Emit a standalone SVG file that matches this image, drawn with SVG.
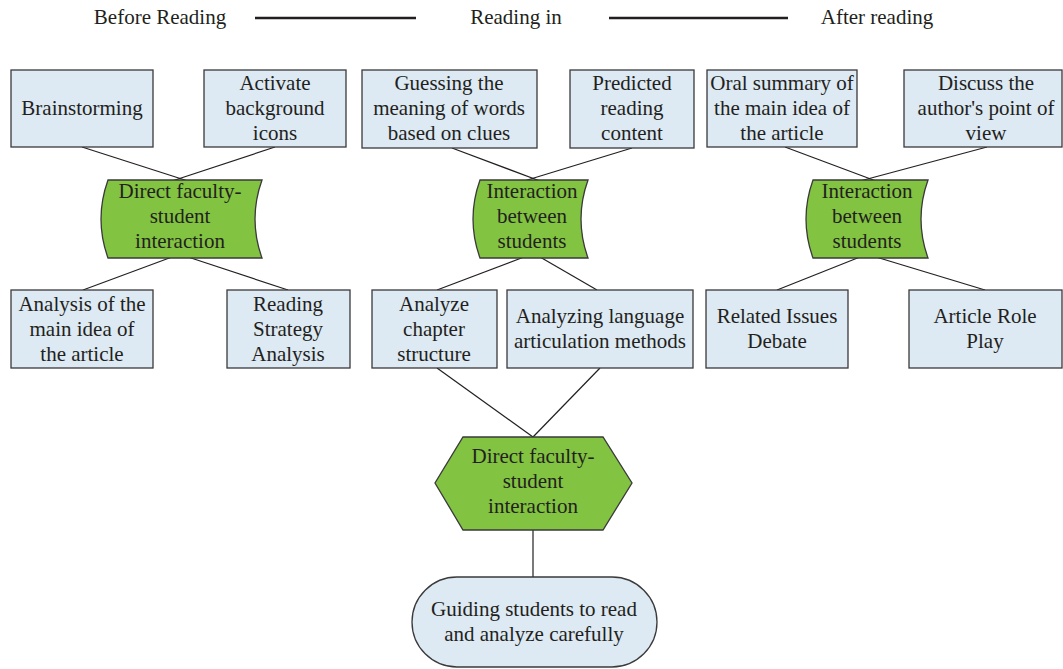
<svg xmlns="http://www.w3.org/2000/svg" width="1063" height="669" viewBox="0 0 1063 669">
  <style>
    text { font-family: "Liberation Serif", "Times New Roman", serif; font-size: 21px; fill: #231f20; text-anchor: middle; }
    .box { fill: #dde9f3; stroke: #3a3a3a; stroke-width: 1.3; }
    .green { fill: #82c341; stroke: #3a3a3a; stroke-width: 1.3; }
    .term { fill: #dde9f3; stroke: #3a3a3a; stroke-width: 1.3; }
    .link { stroke: #231f20; stroke-width: 1.2; fill: none; }
    .rule { stroke: #231f20; stroke-width: 2.6; }
  </style>

  <!-- stage headings -->
  <g id="stages">
    <text x="160" y="24">Before Reading</text>
    <line class="rule" x1="255" y1="18" x2="416" y2="18"/>
    <text x="516" y="24">Reading in</text>
    <line class="rule" x1="609" y1="18" x2="788" y2="18"/>
    <text x="877" y="24">After reading</text>
  </g>

  <!-- connectors -->
  <g id="connectors">
    <line class="link" x1="82" y1="147" x2="188" y2="181"/>
    <line class="link" x1="275" y1="147" x2="172" y2="181"/>
    <line class="link" x1="172" y1="257" x2="83" y2="290"/>
    <line class="link" x1="188" y1="257" x2="288" y2="290"/>

    <line class="link" x1="452" y1="148" x2="540" y2="181"/>
    <line class="link" x1="632" y1="148" x2="524" y2="181"/>
    <line class="link" x1="524" y1="257" x2="437" y2="290"/>
    <line class="link" x1="540" y1="257" x2="597" y2="290"/>

    <line class="link" x1="785" y1="147" x2="876" y2="181"/>
    <line class="link" x1="987" y1="147" x2="860" y2="181"/>
    <line class="link" x1="860" y1="257" x2="777" y2="290"/>
    <line class="link" x1="876" y1="257" x2="985" y2="290"/>

    <line class="link" x1="437" y1="368" x2="533" y2="437"/>
    <line class="link" x1="600" y1="368" x2="533" y2="437"/>
    <line class="link" x1="533" y1="530" x2="533" y2="577"/>
  </g>

  <!-- before reading -->
  <g id="brainstorming">
    <rect class="box" x="11" y="70" width="142" height="77"/>
    <text x="82" y="115">Brainstorming</text>
  </g>
  <g id="activate">
    <rect class="box" x="204" y="70" width="142" height="77"/>
    <text x="275" y="90">Activate</text>
    <text x="275" y="115">background</text>
    <text x="275" y="140">icons</text>
  </g>
  <g id="faculty-before">
    <path class="green" d="M108,180 H262 Q248,219 262,258 H108 Q94,219 108,180 Z"/>
    <text x="180" y="198">Direct faculty-</text>
    <text x="180" y="223">student</text>
    <text x="180" y="248">interaction</text>
  </g>
  <g id="main-idea">
    <rect class="box" x="11" y="290" width="142" height="78"/>
    <text x="82" y="311">Analysis of the</text>
    <text x="82" y="336">main idea of</text>
    <text x="82" y="361">the article</text>
  </g>
  <g id="strategy">
    <rect class="box" x="227" y="290" width="123" height="78"/>
    <text x="288" y="311">Reading</text>
    <text x="288" y="336">Strategy</text>
    <text x="288" y="361">Analysis</text>
  </g>

  <!-- while reading -->
  <g id="guessing">
    <rect class="box" x="362" y="70" width="175" height="78"/>
    <text x="449" y="90">Guessing the</text>
    <text x="449" y="115">meaning of words</text>
    <text x="449" y="140">based on clues</text>
  </g>
  <g id="predicted">
    <rect class="box" x="570" y="70" width="124" height="78"/>
    <text x="632" y="90">Predicted</text>
    <text x="632" y="115">reading</text>
    <text x="632" y="140">content</text>
  </g>
  <g id="students-in">
    <path class="green" d="M480,180 H588 Q574,219 588,258 H480 Q466,219 480,180 Z"/>
    <text x="532" y="198">Interaction</text>
    <text x="532" y="223">between</text>
    <text x="532" y="248">students</text>
  </g>
  <g id="chapter">
    <rect class="box" x="372" y="290" width="125" height="78"/>
    <text x="434" y="311">Analyze</text>
    <text x="434" y="336">chapter</text>
    <text x="434" y="361">structure</text>
  </g>
  <g id="language">
    <rect class="box" x="507" y="290" width="186" height="78"/>
    <text x="600" y="323">Analyzing language</text>
    <text x="600" y="348">articulation methods</text>
  </g>

  <!-- after reading -->
  <g id="oral-summary">
    <rect class="box" x="707" y="70" width="150" height="77"/>
    <text x="782" y="90">Oral summary of</text>
    <text x="782" y="115">the main idea of</text>
    <text x="782" y="140">the article</text>
  </g>
  <g id="point-of-view">
    <rect class="box" x="904" y="70" width="158" height="77"/>
    <text x="986" y="90">Discuss the</text>
    <text x="986" y="115">author's point of</text>
    <text x="986" y="140">view</text>
  </g>
  <g id="students-after">
    <path class="green" d="M813,180 H928 Q914,219 928,258 H813 Q799,219 813,180 Z"/>
    <text x="867" y="198">Interaction</text>
    <text x="867" y="223">between</text>
    <text x="867" y="248">students</text>
  </g>
  <g id="debate">
    <rect class="box" x="706" y="290" width="142" height="78"/>
    <text x="777" y="323">Related Issues</text>
    <text x="777" y="348">Debate</text>
  </g>
  <g id="role-play">
    <rect class="box" x="909" y="290" width="153" height="78"/>
    <text x="985" y="323">Article Role</text>
    <text x="985" y="348">Play</text>
  </g>

  <!-- convergence -->
  <g id="faculty-final">
    <polygon class="green" points="463,437 603,437 632,483 603,530 463,530 435,483"/>
    <text x="533" y="463">Direct faculty-</text>
    <text x="533" y="488">student</text>
    <text x="533" y="513">interaction</text>
  </g>
  <g id="guiding">
    <rect class="term" x="412" y="577" width="245" height="90" rx="45" ry="45"/>
    <text x="534" y="616">Guiding students to read</text>
    <text x="534" y="641">and analyze carefully</text>
  </g>
</svg>
